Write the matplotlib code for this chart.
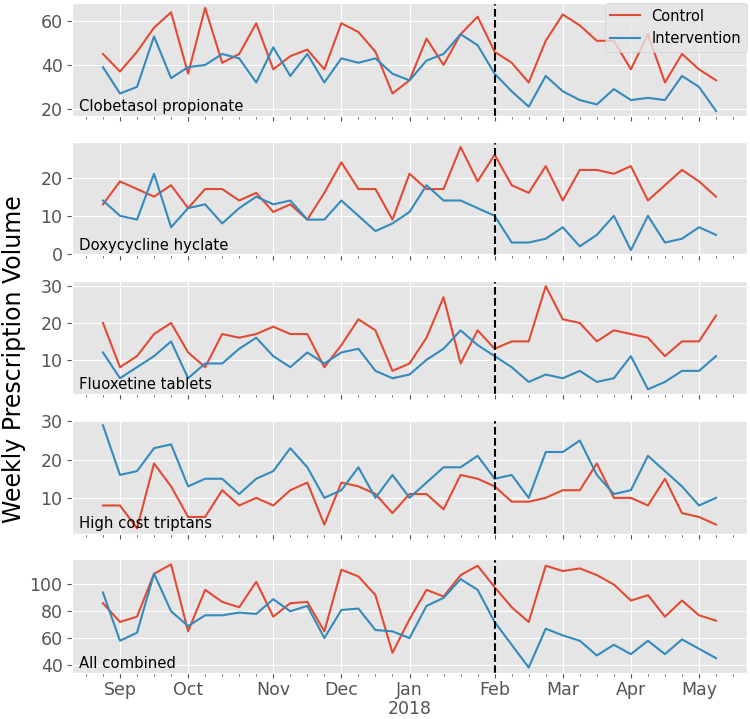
import pandas as pd
import matplotlib
matplotlib.use("Agg")
import matplotlib.pyplot as plt
from matplotlib.ticker import MultipleLocator

plt.style.use("ggplot")

# weekly periods, Aug 2017 - May 2018
weeks = pd.date_range("2017-08-29", periods=37, freq="7D")
intervention_start = pd.Timestamp("2018-02-06")

clob_control = [45, 37, 46, 57, 64, 36, 66, 41, 45, 59, 38, 44, 47, 38, 59, 55, 46, 27, 33, 52,
                40, 54, 62, 46, 41, 32, 51, 63, 58, 51, 51, 38, 54, 32, 45, 38, 33]
clob_interv = [39, 27, 30, 53, 34, 39, 40, 45, 43, 32, 48, 35, 45, 32, 43, 41, 43, 36, 33, 42,
               45, 54, 49, 36, 28, 21, 35, 28, 24, 22, 29, 24, 25, 24, 35, 30, 19]

doxy_control = [13, 19, 17, 15, 18, 12, 17, 17, 14, 16, 11, 13, 9, 16, 24, 17, 17, 9, 21, 17,
                17, 28, 19, 26, 18, 16, 23, 14, 22, 22, 21, 23, 14, 18, 22, 19, 15]
doxy_interv = [14, 10, 9, 21, 7, 12, 13, 8, 12, 15, 13, 14, 9, 9, 14, 10, 6, 8, 11, 18,
               14, 14, 12, 10, 3, 3, 4, 7, 2, 5, 10, 1, 10, 3, 4, 7, 5]

fluox_control = [20, 8, 11, 17, 20, 12, 8, 17, 16, 17, 19, 17, 17, 8, 14, 21, 18, 7, 9, 16,
                 27, 9, 18, 13, 15, 15, 30, 21, 20, 15, 18, 17, 16, 11, 15, 15, 22]
fluox_interv = [12, 5, 8, 11, 15, 5, 9, 9, 13, 16, 11, 8, 12, 9, 12, 13, 7, 5, 6, 10,
                13, 18, 14, 11, 8, 4, 6, 5, 7, 4, 5, 11, 2, 4, 7, 7, 11]

tript_control = [8, 8, 2, 19, 13, 5, 5, 12, 8, 10, 8, 12, 14, 3, 14, 13, 11, 6, 11, 11,
                 7, 16, 15, 13, 9, 9, 10, 12, 12, 19, 10, 10, 8, 15, 6, 5, 3]
tript_interv = [29, 16, 17, 23, 24, 13, 15, 15, 11, 15, 17, 23, 18, 10, 12, 18, 10, 16, 10, 14,
                18, 18, 21, 15, 16, 10, 22, 22, 25, 16, 11, 12, 21, 17, 13, 8, 10]

all_control = [86, 72, 76, 108, 115, 65, 96, 87, 83, 102, 76, 86, 87, 65, 111, 106, 92, 49, 74, 96,
               91, 107, 114, 98, 83, 72, 114, 110, 112, 107, 100, 88, 92, 76, 88, 77, 73]
all_interv = [94, 58, 64, 108, 80, 69, 77, 77, 79, 78, 89, 80, 84, 60, 81, 82, 66, 65, 60, 84,
              90, 104, 96, 72, 55, 38, 67, 62, 58, 47, 55, 48, 58, 48, 59, 52, 45]

panels = [
    ("Clobetasol propionate", clob_control, clob_interv, 20),
    ("Doxycycline hyclate", doxy_control, doxy_interv, 10),
    ("Fluoxetine tablets", fluox_control, fluox_interv, 10),
    ("High cost triptans", tript_control, tript_interv, 10),
    ("All combined", all_control, all_interv, 20),
]

# x is the week number, month ticks go on the first week of each month
x = list(range(len(weeks)))
month_pos = [i for i in x if i > 0 and weeks[i].month != weeks[i - 1].month]
month_lab = []
for i in month_pos:
    lab = weeks[i].strftime("%b")
    if weeks[i].month == 1:
        lab += "\n" + str(weeks[i].year)
    month_lab.append(lab)
feb_pos = list(weeks).index(intervention_start)

fig, axes = plt.subplots(5, 1, sharex=True, figsize=(7.5, 7.19), dpi=100)
fig.subplots_adjust(left=0.0964, right=0.9956, top=0.9962, bottom=0.0644, hspace=0.226)

for ax, (name, ctrl, interv, step) in zip(axes, panels):
    ax.plot(x, ctrl, label="Control", lw=1.5)
    ax.plot(x, interv, label="Intervention", lw=1.5)
    ax.axvline(feb_pos, color="black", ls="--", lw=1.5)
    ax.text(0.01, 0.045, name, transform=ax.transAxes, fontsize=10.7, color="black")
    ax.yaxis.set_major_locator(MultipleLocator(step))
    ax.tick_params(axis="y", labelsize=12.5)
    ax.set_xticks(month_pos)
    ax.xaxis.set_minor_locator(MultipleLocator(1))

axes[-1].set_xticklabels(month_lab, linespacing=1.1)
axes[-1].tick_params(axis="x", labelsize=12.5, pad=2.5)
axes[0].legend(loc="upper right", borderaxespad=0, fontsize=10.5)

fig.text(0.0187, 0.5, "Weekly Prescription Volume", rotation=90,
         ha="center", va="center", fontsize=17)

fig.savefig("out.png")
